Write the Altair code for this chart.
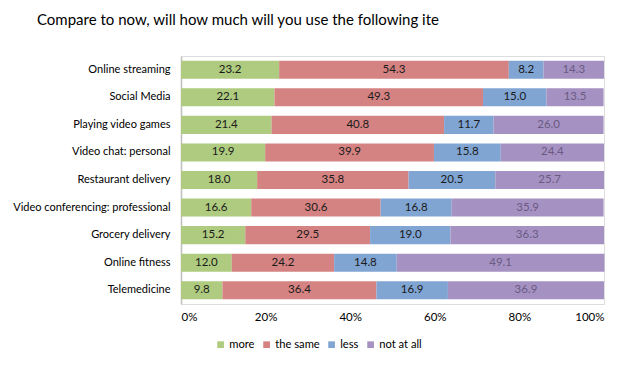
import altair as alt
import pandas as pd

items = ["Online streaming", "Social Media", "Playing video games", "Video chat: personal",
         "Restaurant delivery", "Video conferencing: professional", "Grocery delivery",
         "Online fitness", "Telemedicine"]
categories = ["more", "the same", "less", "not at all"]
more = [23.2, 22.1, 21.4, 19.9, 18.0, 16.6, 15.2, 12.0, 9.8]
same = [54.3, 49.3, 40.8, 39.9, 35.8, 30.6, 29.5, 24.2, 36.4]
less = [8.2, 15.0, 11.7, 15.8, 20.5, 16.8, 19.0, 14.8, 16.9]
not_at_all = [14.3, 13.5, 26.0, 24.4, 25.7, 35.9, 36.3, 49.1, 36.9]
colors = ["#AECB7F", "#D48382", "#80A5D3", "#A592C2"]
x_ticks = [0, 20, 40, 60, 80, 100]

rows = []
for series, cat in zip([more, same, less, not_at_all], categories):
    for it, v in zip(items, series):
        rows.append({"item": it, "cat": cat, "value": v, "order": categories.index(cat)})
df = pd.DataFrame(rows)

FONT = "Lato"

base = alt.Chart(df).transform_stack(
    stack="value", groupby=["item"], as_=["x0", "x1"],
    sort=[alt.SortField("order", order="ascending")]
).transform_calculate(mid="(datum.x0 + datum.x1) / 2")

yenc = alt.Y("item:N", sort=items, title=None,
             scale=alt.Scale(paddingInner=0.345, paddingOuter=0.1725),
             axis=alt.Axis(labelFont=FONT, labelFontSize=11, labelColor="#000000",
                           labelPadding=11, ticks=False, domainColor="#BFBFBF",
                           domainWidth=1.5))

bars = base.mark_bar().encode(
    x=alt.X("x0:Q", scale=alt.Scale(domain=[0, 100], nice=False), title=None,
            axis=alt.Axis(values=x_ticks, labelExpr="datum.value + '%'", grid=False,
                          domain=False, ticks=False, labelFont=FONT, labelFontSize=11.5,
                          labelColor="#000000", labelPadding=7)),
    x2="x1:Q",
    y=yenc,
    color=alt.Color("cat:N", scale=alt.Scale(domain=categories, range=colors), title=None,
                    legend=alt.Legend(orient="none", direction="horizontal",
                                      legendX=34, legendY=283, symbolType="square",
                                      symbolSize=45, symbolStrokeWidth=0,
                                      labelFont=FONT, labelFontSize=11.2, labelColor="#000000",
                                      columnPadding=6, labelOffset=3, padding=0)),
)

labels = base.mark_text(font=FONT, fontSize=11.5).encode(
    x=alt.X("mid:Q"),
    y=alt.Y("item:N", sort=items),
    text=alt.Text("value:Q", format=".1f"),
    color=alt.condition(alt.datum.cat == "not at all", alt.value("#6A5A82"), alt.value("#1A1A1A")),
)

chart = alt.layer(bars, labels).properties(
    width=423, height=248,
    autosize=alt.AutoSizeParams(type="none"),
    padding={"left": 173, "top": 48, "right": 20, "bottom": 54},
    title=alt.TitleParams("Compare to now, will how much will you use the following ite",
                          anchor="start", frame="group", dx=-144, offset=16, font=FONT,
                          fontSize=15, fontWeight="normal", color="#000000",
                          baseline="alphabetic"),
).configure_view(stroke=None).configure(background="white")

chart.save("out.html", embed_options={"renderer": "svg", "actions": False})
